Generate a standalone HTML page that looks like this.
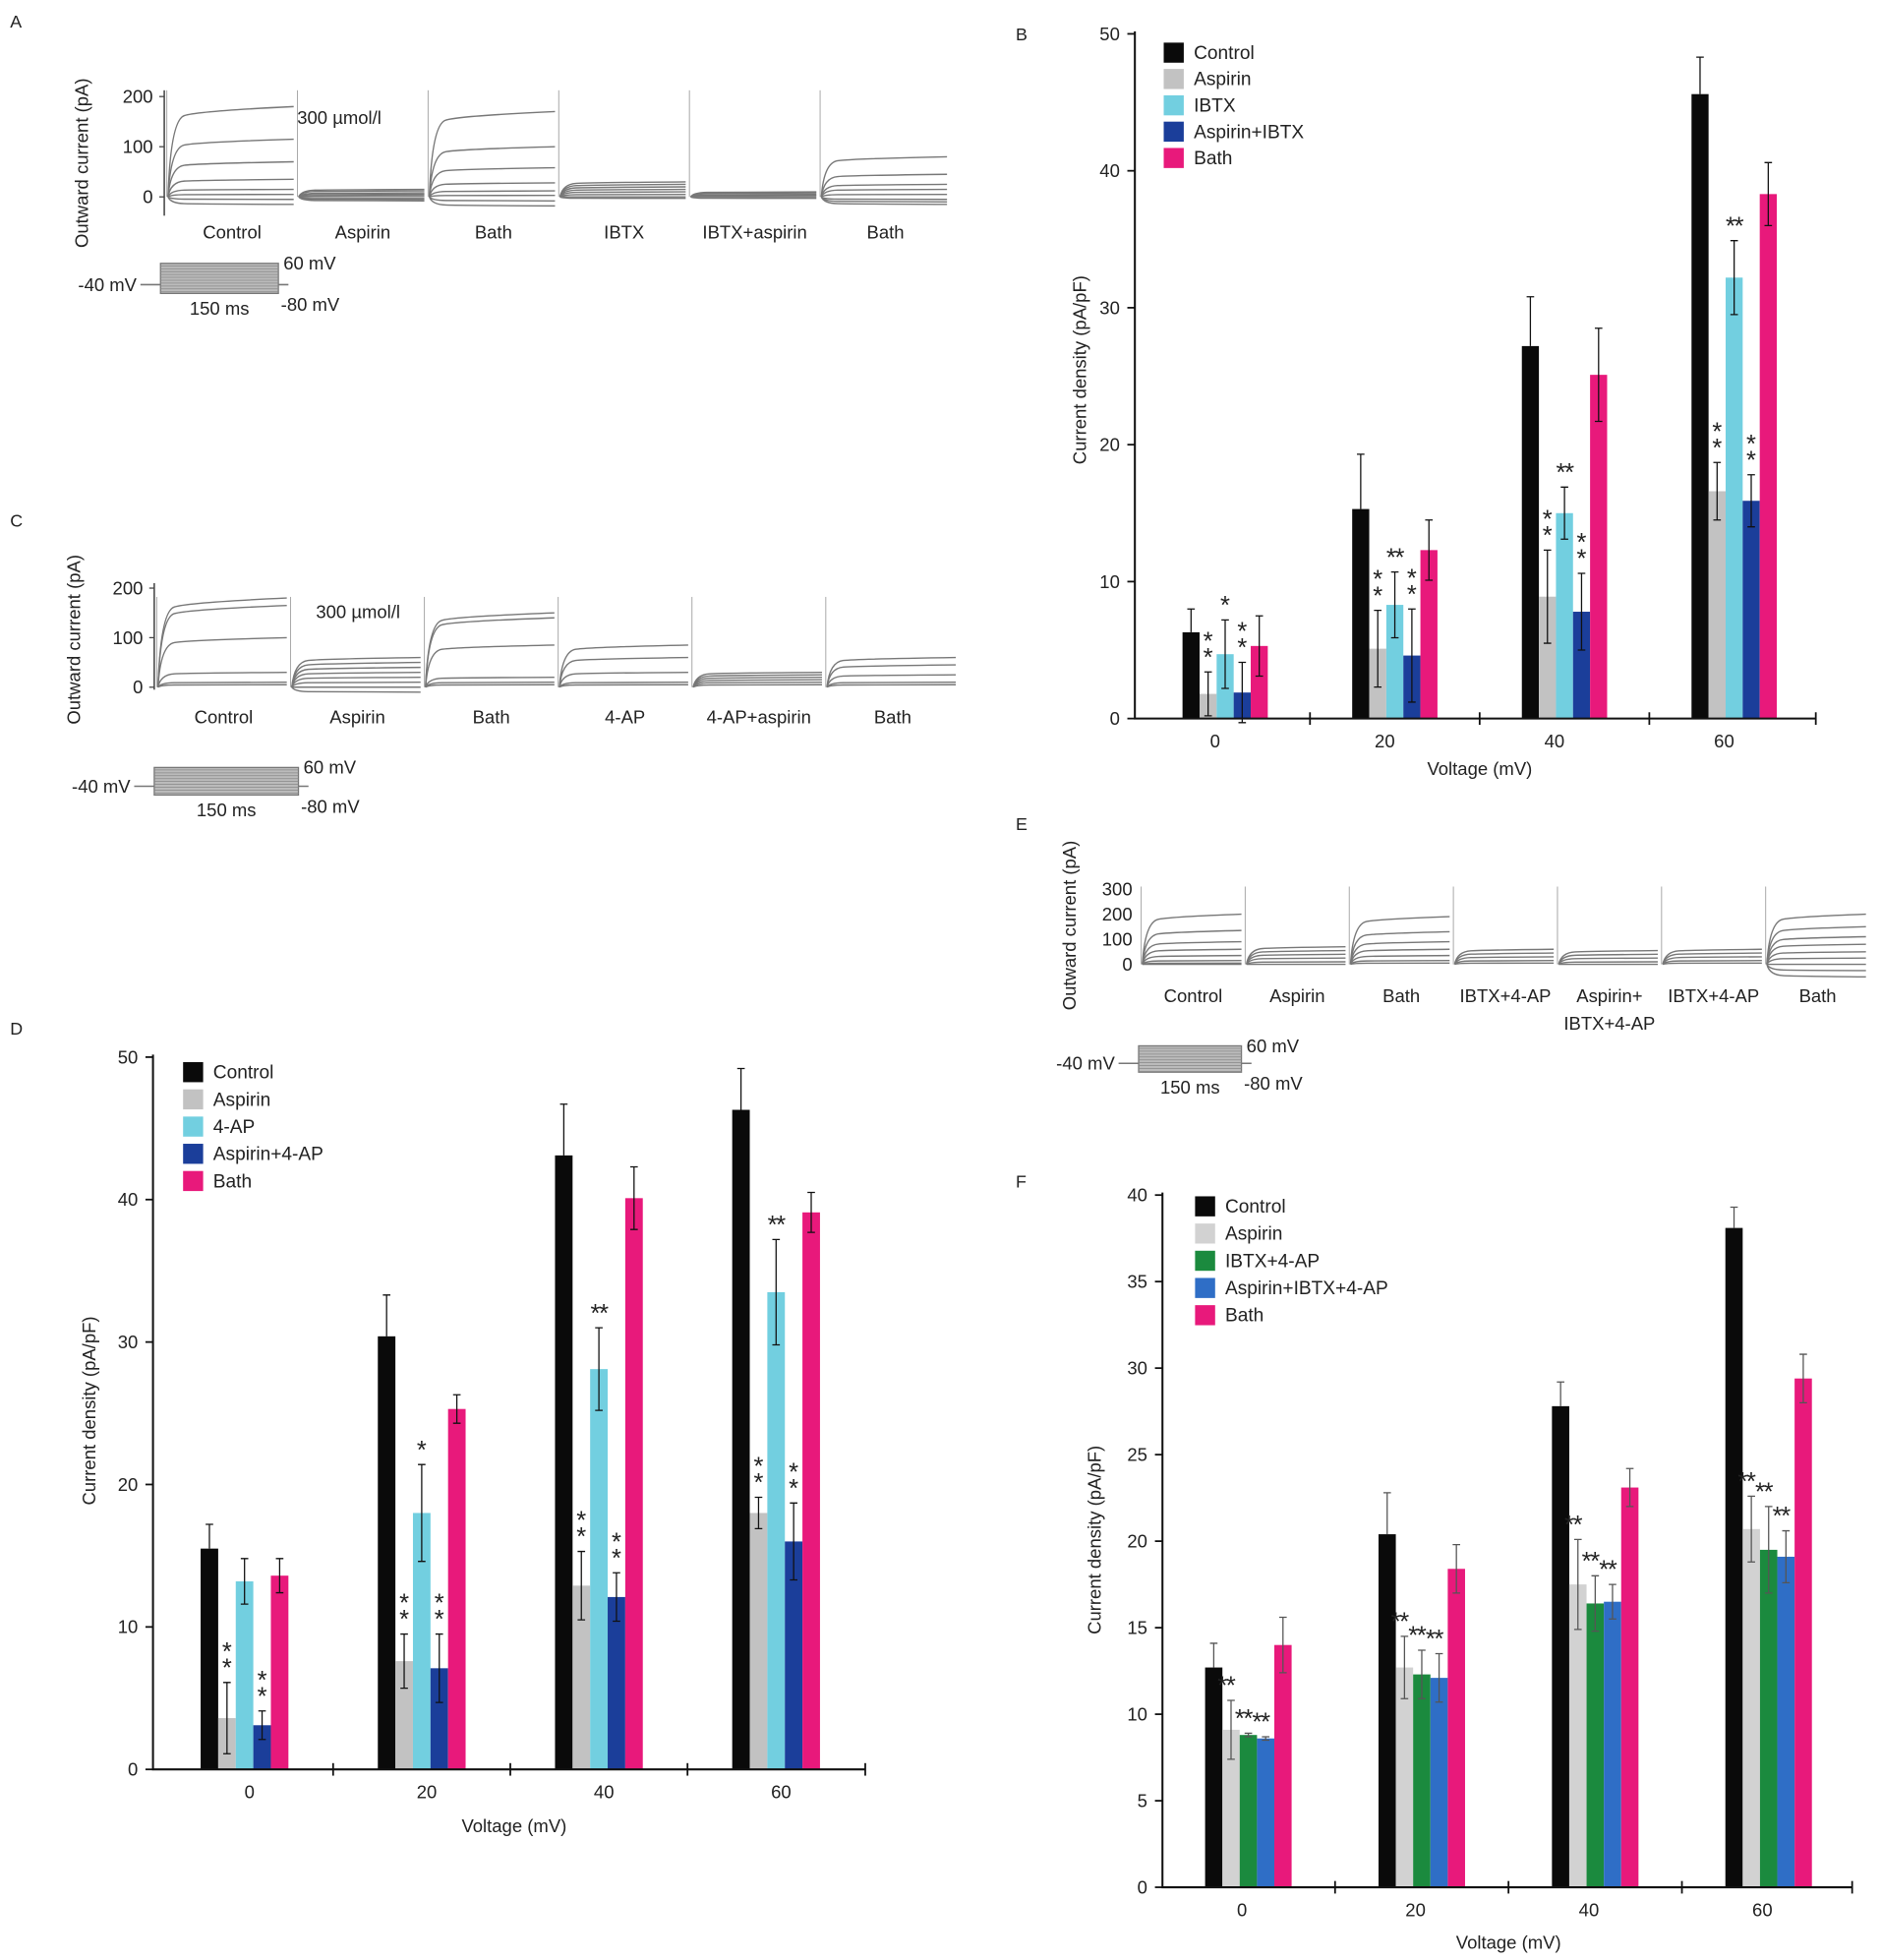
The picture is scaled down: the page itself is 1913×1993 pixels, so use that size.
<!DOCTYPE html>
<html><head><meta charset="utf-8"><style>
html,body{margin:0;padding:0;background:#fff}
svg{display:block}
text{font-family:"Liberation Sans",Arial,sans-serif;fill:#222}
</style></head><body>
<svg id="fig" width="1913" height="1993" viewBox="0 0 1500 1563" preserveAspectRatio="none" xmlns="http://www.w3.org/2000/svg">
<rect width="1500" height="1563" fill="#fff"/>
<text x="8" y="22" font-size="14">A</text>
<text x="810" y="32" font-size="14">B</text>
<text x="8" y="420" font-size="14">C</text>
<text x="810" y="662" font-size="14">E</text>
<text x="8" y="825" font-size="14">D</text>
<text x="810" y="947" font-size="14">F</text>
</svg>
<script>
const NS='http://www.w3.org/2000/svg';
const svg=document.getElementById('fig');
function mk(tag,attrs,parent){const e=document.createElementNS(NS,tag);for(const k in attrs)e.setAttribute(k,attrs[k]);(parent||svg).appendChild(e);return e;}
function txt(x,y,s,size,anchor,parent,extra){const t=mk('text',Object.assign({x:x,y:y,'font-size':size,'text-anchor':anchor||'start'},extra||{}),parent);t.textContent=s;return t;}

/* ---------- Bar chart data ---------- */
const categories=['0','20','40','60'];
// Panel B
const bNames=['Control','Aspirin','IBTX','Aspirin+IBTX','Bath'];
const bControl=[6.3,15.3,27.2,45.6];
const bAspirin=[1.8,5.1,8.9,16.6];
const bIBTX=[4.7,8.3,15.0,32.2];
const bAspIBTX=[1.9,4.6,7.8,15.9];
const bBath=[5.3,12.3,25.1,38.3];
const bErrControl=[1.7,4.0,3.6,2.7];
const bErrAspirin=[1.6,2.8,3.4,2.1];
const bErrIBTX=[2.5,2.4,1.9,2.7];
const bErrAspIBTX=[2.2,3.4,2.8,1.9];
const bErrBath=[2.2,2.2,3.4,2.3];
const bSig=[[0,0,0,0],[3,3,3,3],[1,2,2,2],[3,3,3,3],[0,0,0,0]];
const bTicks=[0,10,20,30,40,50];
// Panel D
const dNames=['Control','Aspirin','4-AP','Aspirin+4-AP','Bath'];
const dControl=[15.5,30.4,43.1,46.3];
const dAspirin=[3.6,7.6,12.9,18.0];
const d4AP=[13.2,18.0,28.1,33.5];
const dAsp4AP=[3.1,7.1,12.1,16.0];
const dBath=[13.6,25.3,40.1,39.1];
const dErrControl=[1.7,2.9,3.6,2.9];
const dErrAspirin=[2.5,1.9,2.4,1.1];
const dErr4AP=[1.6,3.4,2.9,3.7];
const dErrAsp4AP=[1.0,2.4,1.7,2.7];
const dErrBath=[1.2,1.0,2.2,1.4];
const dSig=[[0,0,0,0],[3,3,3,3],[0,1,2,2],[3,3,3,3],[0,0,0,0]];
const dTicks=[0,10,20,30,40,50];
// Panel F
const fNames=['Control','Aspirin','IBTX+4-AP','Aspirin+IBTX+4-AP','Bath'];
const fControl=[12.7,20.4,27.8,38.1];
const fAspirin=[9.1,12.7,17.5,20.7];
const fIBTX4AP=[8.8,12.3,16.4,19.5];
const fAspIBTX4AP=[8.6,12.1,16.5,19.1];
const fBath=[14.0,18.4,23.1,29.4];
const fErrControl=[1.4,2.4,1.4,1.2];
const fErrAspirin=[1.7,1.8,2.6,1.9];
const fErrIBTX4AP=[0.1,1.4,1.6,2.5];
const fErrAspIBTX4AP=[0.1,1.4,1.0,1.5];
const fErrBath=[1.6,1.4,1.1,1.4];
const fSig=[[0,0,0,0],[2,2,2,2],[2,2,2,2],[2,2,2,2],[0,0,0,0]];
const fTicks=[0,5,10,15,20,25,30,35,40];

function barChart(cfg){
  const g=mk('g',{});
  
  
  const y=v=>cfg.y0-(v-0)/cfg.ymax*(cfg.y0-cfg.ytop);
  const gx=i=>cfg.gstart+i*cfg.gstep;
  cfg.series.forEach((s,si)=>{
    s.vals.forEach((v,i)=>{
      const x=gx(i)+si*cfg.bw;
      const r=mk('rect',{x:x,y:y(v),width:cfg.bw,height:cfg.y0-y(v),fill:cfg.colors[si]},g);
      
      
      const cx=x+cfg.bw/2, e=s.err[i];
      const ec=cfg.errColor;
      const eb=mk('path',{d:`M${cx},${y(v-(si===0?0:e))}V${y(v+e)}M${cx-3},${y(v+e)}H${cx+3}`+(si===0?'':`M${cx-3},${y(v-e)}H${cx+3}`),stroke:ec,'stroke-width':1,fill:'none'},g);
      
      
      const sg=cfg.sig[si][i];
      if(sg){
        const top=y(v+e);
        let st;
        if(sg===1){st=txt(cx,top-5,'*',20,'middle',g);}
        else if(sg===2){st=txt(cx-(cfg.diag?4:0),top-5,'**',20,'middle',g,{'letter-spacing':'-1'});}
        else{st=mk('text',{x:cx,y:top-18,'font-size':20,'text-anchor':'middle'},g);
          const t1=mk('tspan',{x:cx,dy:0},st);t1.textContent='*';
          const t2=mk('tspan',{x:cx,dy:13},st);t2.textContent='*';}
        
        
      }
    });
  });
  const ax=mk('path',{d:`M${cfg.ax},${cfg.ytop-2}V${cfg.y0}H${cfg.xend}`,stroke:'#111','stroke-width':1.6,fill:'none'},g);
  
  
  cfg.ticks.forEach(t=>{
    mk('line',{x1:cfg.ax-6,x2:cfg.ax,y1:y(t),y2:y(t),stroke:'#111','stroke-width':1.4},g);
    const tl=txt(cfg.ax-12,y(t)+5,String(t),14.5,'end',g);
    
    
  });
  categories.forEach((c,i)=>{
    const tl=txt(gx(i)+cfg.bw*2.5+cfg.lblOff,cfg.y0+23,c,14.5,'middle',g);
    
    
    if(i>0){const mx=(gx(i-1)+cfg.bw*5+gx(i))/2;mk('line',{x1:mx,x2:mx,y1:cfg.y0-5,y2:cfg.y0+5,stroke:'#111','stroke-width':1.4},g);}
  });
  mk('line',{x1:cfg.xend,x2:cfg.xend,y1:cfg.y0-5,y2:cfg.y0+5,stroke:'#111','stroke-width':1.4},g);
  const yt=txt(0,0,'Current density (pA/pF)',14.5,'middle',g,{transform:`translate(${cfg.ytx},${cfg.yty}) rotate(-90)`});
  
  
  const xt=txt(cfg.xtx,cfg.xty,'Voltage (mV)',14.5,'middle',g);
  
  
  cfg.names.forEach((n,i)=>{
    const ly=cfg.legY+i*cfg.legStep;
    const sw=mk('rect',{x:cfg.legX,y:ly-8,width:16,height:16,fill:cfg.colors[i]},g);
    
    
    const lt=txt(cfg.legX+24,ly+5,n,15,'start',g);
    
    
  });
}
barChart({name:'chart-b',ax:905,ytop:27,y0:573,ymax:50,xend:1448,gstart:943,gstep:135.3,bw:13.6,lblOff:-8,
  colors:['#0a0a0a','#c2c2c2','#72cfe0','#1b3e9a','#e8197b'],errColor:'#111',names:bNames,ticks:bTicks,
  series:[{key:'control',vals:bControl,err:bErrControl},{key:'aspirin',vals:bAspirin,err:bErrAspirin},{key:'ibtx',vals:bIBTX,err:bErrIBTX},{key:'aspirin-ibtx',vals:bAspIBTX,err:bErrAspIBTX},{key:'bath',vals:bBath,err:bErrBath}],
  sig:bSig,ytx:866,yty:295,xtx:1180,xty:618,legX:928,legY:42,legStep:21});
barChart({name:'chart-d',ax:122,ytop:843,y0:1411,ymax:50,xend:690,gstart:160,gstep:141.3,bw:14,lblOff:4,
  colors:['#0a0a0a','#c2c2c2','#72cfe0','#1b3e9a','#e8197b'],errColor:'#111',names:dNames,ticks:dTicks,
  series:[{key:'control',vals:dControl,err:dErrControl},{key:'aspirin',vals:dAspirin,err:dErrAspirin},{key:'4ap',vals:d4AP,err:dErr4AP},{key:'aspirin-4ap',vals:dAsp4AP,err:dErrAsp4AP},{key:'bath',vals:dBath,err:dErrBath}],
  sig:dSig,ytx:76,yty:1125,xtx:410,xty:1461,legX:146,legY:855,legStep:21.7});
barChart({name:'chart-f',ax:927,ytop:953,y0:1505,ymax:40,xend:1477,gstart:961,gstep:138.3,bw:13.8,lblOff:-5,diag:true,
  colors:['#0a0a0a','#d2d2d2','#1b8a3e','#2f6ec6','#e8197b'],errColor:'#555',names:fNames,ticks:fTicks,
  series:[{key:'control',vals:fControl,err:fErrControl},{key:'aspirin',vals:fAspirin,err:fErrAspirin},{key:'ibtx-4ap',vals:fIBTX4AP,err:fErrIBTX4AP},{key:'aspirin-ibtx-4ap',vals:fAspIBTX4AP,err:fErrAspIBTX4AP},{key:'bath',vals:fBath,err:fErrBath}],
  sig:fSig,ytx:878,yty:1228,xtx:1203,xty:1554,legX:953,legY:962,legStep:21.7});

/* ---------- Current traces ---------- */
const aSegLabels=['Control','Aspirin','Bath','IBTX','IBTX+aspirin','Bath'];
const aLevels=[[180,115,70,35,15,5,-5,-15],[15,12,8,5,2,-2,-5,-8],[170,100,58,28,12,3,-8,-18],[30,25,20,15,10,5,0,-3],[10,8,5,3,0,-3],[80,45,25,15,5,-5,-10,-15]];
const cSegLabels=['Control','Aspirin','Bath','4-AP','4-AP+aspirin','Bath'];
const cLevels=[[180,165,100,30,10,5],[60,50,40,30,20,10,0,-10],[150,140,85,20,10,5],[85,60,30,10,5],[30,25,20,15,10,5],[60,45,25,10,5]];
const eSegLabels=['Control','Aspirin','Bath','IBTX+4-AP','Aspirin+|IBTX+4-AP','IBTX+4-AP','Bath'];
const eLevels=[[200,135,90,60,35,15,5,0],[70,55,40,25,10,0],[190,130,90,60,35,15,5],[60,45,30,15,5],[55,40,25,10,0],[60,45,30,15,5],[200,150,110,80,50,25,0,-25,-50]];

function tracePanel(cfg){
  const g=mk('g',{});
  
  
  const y=v=>cfg.y0-v*cfg.k;
  cfg.levels.forEach((lv,si)=>{
    const x0=cfg.x0+si*cfg.sw, x1=x0+cfg.sw-3;
    mk('line',{x1:x0,x2:x0,y1:cfg.spikeTop,y2:y(0),stroke:'#aaa','stroke-width':0.8},g);
    lv.forEach(v=>{
      const p=mk('path',{d:`M${x0+1},${y(0)} Q${x0+3},${y(v*0.85)} ${x0+14},${y(v*0.9)} T${x1},${y(v)}`,stroke:'#777','stroke-width':1.1,fill:'none'},g);
      
      
    });
    const parts=cfg.labels[si].split('|');
    parts.forEach((s,pi)=>{
      const t=txt(x0+cfg.sw/2,cfg.lblY+pi*22,s,14.5,'middle',g);
      
      
    });
  });
  if(cfg.axis){mk('line',{x1:cfg.ax,x2:cfg.ax,y1:cfg.axTop,y2:cfg.axBot,stroke:'#444','stroke-width':1.2},g);}
  cfg.ticks.forEach(t=>{
    if(cfg.axis)mk('line',{x1:cfg.ax-4,x2:cfg.ax,y1:y(t),y2:y(t),stroke:'#444','stroke-width':1},g);
    const tl=txt(cfg.ax-9,y(t)+5,String(t),14.5,'end',g);
    
    
  });
  const yt=txt(0,0,'Outward current (pA)',14.5,'middle',g,{transform:`translate(${cfg.ytx},${cfg.yty}) rotate(-90)`});
  
  
  if(cfg.conc){const c=txt(cfg.conc[0],cfg.conc[1],'300 µmol/l',14.5,'start',g);}
  const p=cfg.proto;
  const pg=mk('g',{},g);
  
  
  mk('line',{x1:p.bx-16,x2:p.rx+8,y1:p.mid,y2:p.mid,stroke:'#777','stroke-width':1.2},pg);
  mk('rect',{x:p.bx,y:p.top,width:p.rx-p.bx,height:p.bot-p.top,fill:'#bbb',stroke:'#777','stroke-width':1},pg);
  for(let yy=p.top+2;yy<p.bot;yy+=2.3)mk('line',{x1:p.bx,x2:p.rx,y1:yy,y2:yy,stroke:'#888','stroke-width':0.6},pg);
  txt(p.bx-19,p.mid+5,'-40 mV',14.5,'end',pg);
  txt(p.rx+4,p.top+5,'60 mV',14.5,'start',pg);
  txt(p.rx+2,p.bot+14,'-80 mV',14.5,'start',pg);
  txt((p.bx+p.rx)/2,p.bot+17,'150 ms',14.5,'middle',pg);
}
tracePanel({name:'panel-a-traces',x0:133,sw:104.2,y0:157,k:0.4,spikeTop:72,levels:aLevels,labels:aSegLabels,lblY:190,axis:true,ax:131,axTop:72,axBot:172,ticks:[0,100,200],ytx:70,yty:130,conc:[237,99],
  proto:{bx:128,rx:222,top:210,bot:234,mid:227}});
tracePanel({name:'panel-c-traces',x0:125,sw:106.7,y0:548,k:0.395,spikeTop:476,levels:cLevels,labels:cSegLabels,lblY:577,axis:true,ax:123,axTop:465,axBot:550,ticks:[0,100,200],ytx:64,yty:510,conc:[252,493],
  proto:{bx:123,rx:238,top:612,bot:634,mid:627}});
tracePanel({name:'panel-e-traces',x0:910,sw:83,y0:769,k:0.2,spikeTop:707,levels:eLevels,labels:eSegLabels,lblY:799,axis:false,ax:912,axTop:705,axBot:770,ticks:[0,100,200,300],ytx:858,yty:738,conc:null,
  proto:{bx:908,rx:990,top:834,bot:855,mid:848}});
</script>
</body></html>
